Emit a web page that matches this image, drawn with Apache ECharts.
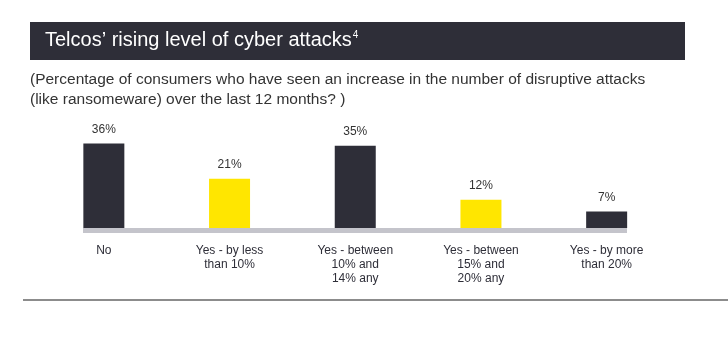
<!DOCTYPE html>
<html><head><meta charset="utf-8">
<script src="https://cdn.jsdelivr.net/npm/echarts@6/dist/echarts.min.js"></script>
<style>html,body{margin:0;padding:0;background:#fff}#c{width:728px;height:338px}</style>
</head><body><div id="c"></div>
<script>
const categories = ['No', 'Yes - by less\nthan 10%', 'Yes - between\n10% and\n14% any', 'Yes - between\n15% and\n20% any', 'Yes - by more\nthan 20%'];
const values = [36, 21, 35, 12, 7];
const barColors = ['#2e2e38', '#ffe600', '#2e2e38', '#ffe600', '#2e2e38'];
const titleText = 'Telcos\u2019 rising level of cyber attacks';
const subtitleLines = ['(Percentage of consumers who have seen an increase in the number of disruptive attacks', '(like ransomeware) over the last 12 months? )'];

const FONT = '"Liberation Sans", Arial, sans-serif';
const chart = echarts.init(document.getElementById('c'), null, {renderer: 'canvas'});
chart.setOption({
  animation: false,
  backgroundColor: '#fff',
  graphic: [
    {type: 'rect', shape: {x: 30, y: 22, width: 655, height: 38}, style: {fill: '#2e2e38'}, z: 0},
    {type: 'text', x: 45, y: 30, style: {
      text: '{t|' + titleText + '}{s|4}',
      rich: {t: {fontFamily: FONT, fontSize: 20, fill: '#fff'}, s: {fontFamily: FONT, fontSize: 10, fill: '#fff', verticalAlign: 'top', padding: [0,0,10,1]}}
    }},
    {type: 'text', x: 30, y: 70, style: {text: subtitleLines.join('\n'), fontFamily: FONT, fontSize: 15.5, lineHeight: 20, fill: '#333'}},
    {type: 'rect', shape: {x: 83, y: 228, width: 544, height: 5}, style: {fill: '#c4c4cb'}, z: 1},
    {type: 'rect', shape: {x: 23, y: 299, width: 705, height: 2}, style: {fill: '#8c8c8c'}}
  ],
  grid: {left: 41, right: 58.5, top: 134, bottom: 110},
  xAxis: {
    type: 'category', data: categories,
    axisLine: {show: false}, axisTick: {show: false},
    axisLabel: {interval: 0, margin: 16, fontFamily: FONT, fontSize: 12, lineHeight: 14, color: '#2e2e38', align: 'center'}
  },
  yAxis: {type: 'value', min: 0, max: 40, show: false, splitLine: {show: false}},
  series: [{
    type: 'bar', barWidth: 41, z: 2,
    data: values.map((v, i) => ({value: v, itemStyle: {color: barColors[i]}})),
    label: {show: true, position: 'top', distance: 8, formatter: '{c}%', fontFamily: FONT, fontSize: 12, color: '#333'}
  }]
});
</script></body></html>
